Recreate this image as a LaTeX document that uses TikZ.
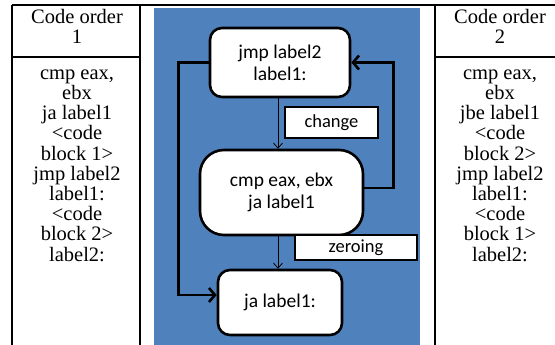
\documentclass[tikz,border=0pt]{standalone}
\usepackage{fontspec}
\setmainfont{Liberation Serif}
\newfontfamily\tabfont{Liberation Serif}
\newfontfamily\diafont{Carlito}
\usetikzlibrary{arrows.meta}
\definecolor{panelblue}{RGB}{79,129,189}
\tikzset{
  tabline/.style={line width=1.8pt},
  celltext/.style={anchor=north,align=center,inner sep=0pt,font=\tabfont\fontsize{20.5}{20.2}\selectfont},
  bbox/.style={draw=black,fill=white,line width=2.6pt,align=center,font=\diafont\fontsize{19.5}{22}\selectfont},
  tagbox/.style={draw=black,fill=white,line width=2pt,align=center,font=\diafont\fontsize{18.5}{20}\selectfont,inner sep=0pt},
  thinarrow/.style={line width=0.8pt,-{Straight Barb[length=5pt,width=9pt]}},
  thickarrow/.style={line width=2.6pt,-{Straight Barb[length=6pt,width=14pt]}}
}
\begin{document}
\begin{tikzpicture}[x=1pt,y=-1pt]
\useasboundingbox (0,0) rectangle (555,345);
\fill[white] (0,0) rectangle (555,345);
% table
\draw[tabline] (12,5) -- (555,5);
\draw[tabline] (12,5) -- (12,345);
\draw[tabline] (140,5) -- (140,345);
\draw[tabline] (435,5) -- (435,345);
\draw[tabline] (12,57) -- (140,57);
\draw[tabline] (435,57) -- (555,57);
\fill[panelblue] (154,8) rectangle (420,345);
% table texts
\node[celltext] (h1) at (77,8) {\rule{0pt}{15pt}Code order\\1};
\node[celltext] (h2) at (500,8) {\rule{0pt}{15pt}Code order\\2};
\node[celltext] (c1) at (77,64) {\rule{0pt}{15pt}cmp eax,\\ebx\\ja label1\\<code\\block 1>\\jmp label2\\label1:\\<code\\block 2>\\label2:};
\node[celltext] (c2) at (500,64) {\rule{0pt}{15pt}cmp eax,\\ebx\\jbe label1\\<code\\block 2>\\jmp label2\\label1:\\<code\\block 1>\\label2:};
% diagram
\node[bbox,minimum width=140pt,minimum height=69pt,rounded corners=12pt] (b1) at (280,62.5) {jmp label2\\label1:};
\node[bbox,minimum width=163pt,minimum height=85pt,rounded corners=24pt] (b2) at (281.5,192.5) {cmp eax, ebx\\ja label1};
\node[bbox,minimum width=124pt,minimum height=65pt,rounded corners=12pt] (b3) at (280,302.5) {ja label1:};
\node[tagbox,minimum width=93pt,minimum height=31pt] (t1) at (331.5,122.5) {change};
\node[tagbox,minimum width=122pt,minimum height=25pt] (t2) at (356,247.5) {zeroing};
\draw[thinarrow] ([xshift=-2pt]b1.south) -- ([xshift=-2pt]b1.south |- b2.north);
\draw[thinarrow] ([xshift=-3.5pt]b2.south) -- ([xshift=-3.5pt]b2.south |- b3.north);
\draw[thickarrow] (b1.west) -- ++(-30,0) |- ([yshift=7.5pt]b3.west);
\draw[thickarrow] ([yshift=4.5pt]b2.east) -- ++(29,0) |- (b1.east);
\end{tikzpicture}
\end{document}
